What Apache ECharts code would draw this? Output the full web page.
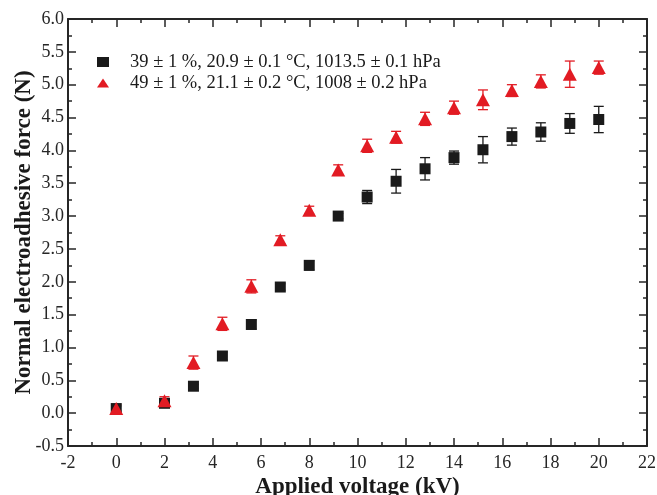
<!DOCTYPE html>
<html>
<head>
<meta charset="utf-8">
<script src="https://cdn.jsdelivr.net/npm/echarts@6/dist/echarts.min.js"></script>
<style>
  html, body { margin: 0; padding: 0; background: #fff; }
  #chart { width: 657px; height: 495px; }
</style>
</head>
<body>
<div id="chart"></div>
<script>
// Applied voltage (kV) for both measurement runs
const voltage = [0, 2, 3.2, 4.4, 5.6, 6.8, 8, 9.2, 10.4, 11.6, 12.8, 14, 15.2, 16.4, 17.6, 18.8, 20];

// Run 1: 39 % RH
const forceA = [0.07, 0.15, 0.41, 0.87, 1.35, 1.92, 2.25, 3.00, 3.29, 3.53, 3.72, 3.89, 4.01, 4.21, 4.28, 4.41, 4.47];
const errA   = [0.04, 0.05, 0.03, 0.06, 0.07, 0.05, 0.07, 0.04, 0.10, 0.18, 0.17, 0.10, 0.20, 0.13, 0.14, 0.15, 0.20];

// Run 2: 49 % RH
const forceB = [0.07, 0.19, 0.77, 1.36, 1.93, 2.64, 3.09, 3.70, 4.07, 4.20, 4.48, 4.65, 4.77, 4.91, 5.05, 5.16, 5.26];
const errB   = [0.06, 0.06, 0.10, 0.10, 0.10, 0.06, 0.06, 0.08, 0.10, 0.09, 0.10, 0.10, 0.15, 0.09, 0.10, 0.20, 0.10];

const labelA = '39 ± 1 %, 20.9 ± 0.1 °C, 1013.5 ± 0.1 hPa';
const labelB = '49 ± 1 %, 21.1 ± 0.2 °C, 1008 ± 0.2 hPa';

const colorA = '#1a1a1a';
const colorB = '#e21b23';
const serif = "'Liberation Serif', 'Times New Roman', serif";
const axisColor = '#262626';

const pointsA = voltage.map((v, i) => [v, forceA[i]]);
const pointsB = voltage.map((v, i) => [v, forceB[i]]);
const barsA = voltage.map((v, i) => [v, forceA[i] - errA[i], forceA[i] + errA[i]]);
const barsB = voltage.map((v, i) => [v, forceB[i] - errB[i], forceB[i] + errB[i]]);

// Vertical error bar with short horizontal caps
function errorBarRenderer(color) {
  return function (params, api) {
    const x = api.value(0);
    const top = api.coord([x, api.value(2)]);
    const bot = api.coord([x, api.value(1)]);
    const cap = 5;
    const style = { stroke: color, lineWidth: 1.3 };
    return {
      type: 'group',
      children: [
        { type: 'line', shape: { x1: top[0], y1: top[1], x2: bot[0], y2: bot[1] }, style },
        { type: 'line', shape: { x1: top[0] - cap, y1: top[1], x2: top[0] + cap, y2: top[1] }, style },
        { type: 'line', shape: { x1: bot[0] - cap, y1: bot[1], x2: bot[0] + cap, y2: bot[1] }, style }
      ]
    };
  };
}

const tickCommon = {
  axisLine: { show: true, onZero: false, lineStyle: { color: axisColor, width: 2 } },
  axisTick: { show: true, inside: true, length: 8, lineStyle: { color: axisColor, width: 1.5 } },
  minorTick: { show: true, splitNumber: 2, length: 4, lineStyle: { color: axisColor, width: 1.5 } },
  splitLine: { show: false },
  minorSplitLine: { show: false }
};

const chart = echarts.init(document.getElementById('chart'), null, { renderer: 'canvas' });

chart.setOption({
  backgroundColor: '#ffffff',
  animation: false,
  grid: { left: 68, right: 10, top: 19, bottom: 49, containLabel: false, outerBoundsMode: 'none' },
  legend: {
    left: 92,
    top: 47,
    orient: 'vertical',
    itemWidth: 12,
    itemHeight: 10,
    itemGap: 1,
    symbolKeepAspect: true,
    data: [
      { name: labelA, icon: 'rect' },
      { name: labelB, icon: 'path://M0,10 L6.5,0 L13,10 Z' }
    ],
    textStyle: {
      fontFamily: serif, fontSize: 18.5, color: '#1a1a1a',
      lineHeight: 20, padding: [0, 0, 0, 16]
    }
  },
  xAxis: [
    Object.assign({
      type: 'value', min: -2, max: 22, interval: 2,
      name: 'Applied voltage (kV)',
      nameLocation: 'middle',
      nameGap: 30,
      nameMoveOverlap: false,
      nameTextStyle: { fontFamily: serif, fontSize: 23, fontWeight: 'bold', color: '#1a1a1a' },
      axisLabel: { fontFamily: serif, fontSize: 18, color: '#262626', margin: 8 }
    }, tickCommon),
    Object.assign({
      type: 'value', min: -2, max: 22, interval: 2, position: 'top',
      axisLabel: { show: false }
    }, tickCommon)
  ],
  yAxis: [
    Object.assign({
      type: 'value', min: -0.5, max: 6, interval: 0.5,
      name: 'Normal electroadhesive force (N)',
      nameLocation: 'middle',
      nameGap: 32,
      nameMoveOverlap: false,
      nameTextStyle: { fontFamily: serif, fontSize: 23, fontWeight: 'bold', color: '#1a1a1a' },
      axisLabel: {
        fontFamily: serif, fontSize: 18, color: '#262626', margin: 4,
        formatter: v => v.toFixed(1)
      }
    }, tickCommon),
    Object.assign({
      type: 'value', min: -0.5, max: 6, interval: 0.5, position: 'right',
      axisLabel: { show: false }
    }, tickCommon)
  ],
  series: [
    {
      type: 'custom', name: 'errA', xAxisIndex: 0, yAxisIndex: 0,
      data: barsA, renderItem: errorBarRenderer(colorA), z: 2,
      encode: { x: 0, y: [1, 2] }
    },
    {
      type: 'custom', name: 'errB', xAxisIndex: 0, yAxisIndex: 0,
      data: barsB, renderItem: errorBarRenderer(colorB), z: 2,
      encode: { x: 0, y: [1, 2] }
    },
    {
      type: 'scatter', name: labelA, xAxisIndex: 0, yAxisIndex: 0,
      data: pointsA, symbol: 'rect', symbolSize: 11,
      itemStyle: { color: colorA, opacity: 1 }, z: 3
    },
    {
      type: 'scatter', name: labelB, xAxisIndex: 0, yAxisIndex: 0,
      data: pointsB, symbol: 'triangle', symbolSize: [14, 13],
      itemStyle: { color: colorB, opacity: 1 }, z: 4
    }
  ]
});
</script>
</body>
</html>
